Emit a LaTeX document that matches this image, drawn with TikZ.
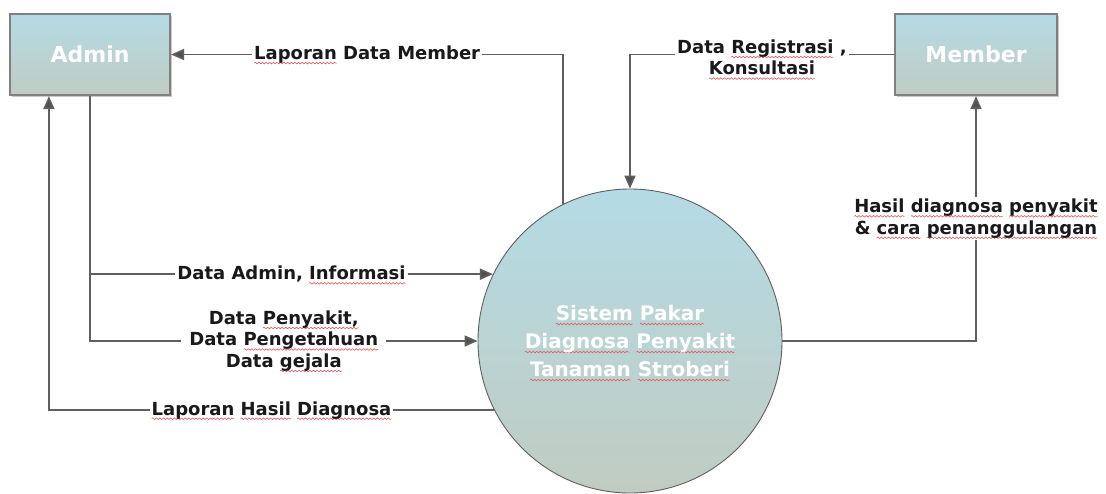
\documentclass[tikz,border=0pt]{standalone}
\usepackage{fontspec}
\setmainfont{DejaVu Sans}
\usetikzlibrary{arrows.meta,shadows,decorations.pathmorphing}

\definecolor{wavered}{RGB}{230,90,90}
\definecolor{shadetop}{RGB}{180,219,229}
\definecolor{shadebot}{RGB}{192,204,194}
\definecolor{edgegray}{RGB}{128,128,128}
\definecolor{flowgray}{RGB}{95,95,95}
\definecolor{tipgray}{RGB}{80,80,80}

% red wavy underline for the flagged words
\newsavebox\spellbox
\newcommand\spell[1]{\sbox\spellbox{#1}%
  \rlap{\tikz[overlay, x=1pt, y=1pt, baseline=0pt]
    \draw[-, solid, draw=wavered, line width=0.6pt, decorate,
          decoration={snake, amplitude=0.8pt, segment length=3.6pt}]
      (0pt,-3.6pt) -- (\the\wd\spellbox,-3.6pt);}%
  \usebox\spellbox}

\tikzset{
  entity/.style={draw=edgegray, line width=2.2pt, top color=shadetop, bottom color=shadebot,
    minimum height=81pt, text=white, font=\bfseries\fontsize{22}{26}\selectfont,
    drop shadow={shadow xshift=1.5pt, shadow yshift=-1.5pt, opacity=0.35, fill=black!60}},
  process/.style={circle, draw=flowgray, line width=0.9pt, top color=shadetop, bottom color=shadebot,
    minimum size=304pt, inner sep=0pt, text=white, align=center,
    font=\bfseries\fontsize{20}{28}\selectfont},
  flow/.style={draw=flowgray, line width=1.7pt, -{Triangle[length=13pt,width=11pt,fill=tipgray]}},
  lbl/.style={fill=white, text=black!90, align=center, inner sep=2pt,
    font=\bfseries\fontsize{18}{21.5}\selectfont}
}

\begin{document}
\begin{tikzpicture}[x=1pt, y=-1pt]
  \useasboundingbox[fill=white] (0,0) rectangle (1106,493);

  % external entities and the process
  \node[entity, minimum width=160pt] (admin) at (90,54.5) {Admin};
  \node[entity, minimum width=162pt] (member) at (976,54.5) {Member};
  \node[process] (sys) at (630,341)
    {\spell{Sistem} \spell{Pakar}\\\spell{Diagnosa} \spell{Penyakit}\\\spell{Tanaman} \spell{Stroberi}};

  % data flows
  \draw[flow] (sys.116.6) |- (admin.east)
    node[lbl, pos=0.75] {\spell{Laporan} Data Member};
  \draw[flow] (member.west) -| (sys.north)
    node[lbl, pos=0.25, yshift=-3pt] {Data \spell{Registrasi} ,\\\spell{Konsultasi}};
  \draw[flow] (admin.south) |- (sys.154.3)
    node[lbl, pos=0.75] {Data Admin, \spell{Informasi}};
  \draw[flow] (admin.south) |- (sys.west)
    node[lbl, pos=0.75, inner xsep=8pt] {Data \spell{Penyakit,}\\Data \spell{Pengetahuan}\\Data \spell{gejala}};
  \draw[flow] (sys.207.4) -| ([xshift=40pt]admin.south west)
    node[lbl, pos=0.25] {\spell{Laporan} \spell{Hasil} \spell{Diagnosa}};
  \draw[flow] (sys.east) -| (member.south)
    node[lbl, pos=0.75] {\spell{Hasil} \spell{diagnosa} \spell{penyakit}\\\& \spell{cara} \spell{penanggulangan}};
\end{tikzpicture}
\end{document}
